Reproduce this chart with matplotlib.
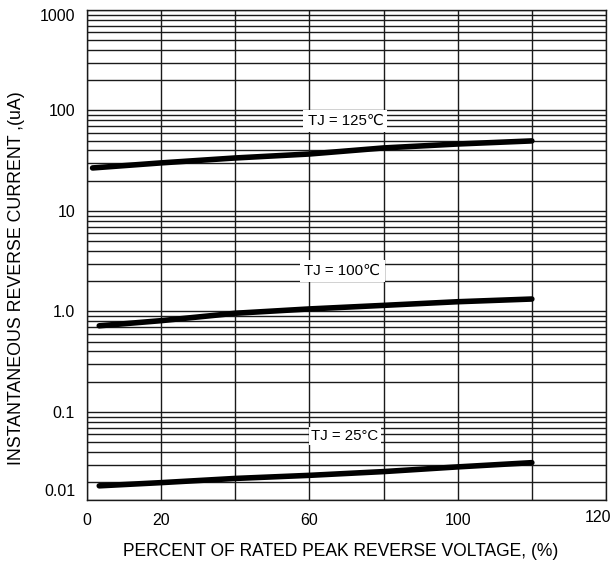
import matplotlib
matplotlib.use("Agg")
import matplotlib.pyplot as plt
from matplotlib.ticker import FixedLocator, LogLocator, NullFormatter
from matplotlib.transforms import ScaledTranslation

plt.rcParams['font.family'] = ['Liberation Sans', 'DejaVu Sans']

# Percent of rated peak reverse voltage
x_125 = [1.5, 20, 40, 60, 80, 100, 120]
x_low = [3.3, 20, 40, 60, 80, 100, 120]
# Instantaneous reverse current (uA)
i_125 = [26.8, 30.1, 33.7, 36.9, 42.4, 46.4, 49.8]
i_100 = [0.72, 0.81, 0.96, 1.06, 1.15, 1.25, 1.33]
i_25 = [0.0184, 0.0198, 0.0218, 0.0234, 0.0255, 0.0284, 0.0313]

labels = ["TJ = 125\u2103", "TJ = 100\u2103", "TJ = 25\u00b0C"]
label_x = [69.7, 68.9, 69.6]
label_y = [78.7, 2.53, 0.0577]

# axis as drawn in the reference: its bottom edge is labelled 0.01
y_top = 1000
y_bottom = 0.0133
x_tick_pos = [0, 20, 40, 60, 80, 100, 120, 140]
x_tick_lab = ["0", "20", "", "60", "", "100", "", "120"]
y_tick_pos = [y_bottom, 0.1, 1.0, 10, 100, 1000]
y_tick_lab = ["0.01", "0.1", "1.0", "10", "100", "1000"]

fig = plt.figure(figsize=(6.14, 5.66), dpi=100)
ax = fig.add_axes([87/614, 1-500/566, (606-87)/614, (500-10)/566])
ax.set_yscale('log')
ax.set_xlim(0, 140)
ax.set_ylim(y_bottom, y_top)

ax.xaxis.set_major_locator(FixedLocator(x_tick_pos))
ax.set_xticklabels(x_tick_lab)
ax.yaxis.set_major_locator(FixedLocator(y_tick_pos))
ax.set_yticklabels(y_tick_lab)
ax.yaxis.set_minor_locator(LogLocator(base=10, subs=range(2, 10)))
ax.yaxis.set_minor_formatter(NullFormatter())

ax.grid(True, which='major', axis='both', color='#1a1a1a', linewidth=1.0)
ax.grid(True, which='minor', axis='y', color='#1a1a1a', linewidth=1.0)
ax.tick_params(which='both', length=0)
ax.tick_params(axis='y', labelsize=11.5, pad=8.6)
ax.tick_params(axis='x', labelsize=11.5, pad=9.2)
for s in ax.spines.values():
    s.set_color('#1a1a1a')
    s.set_linewidth(1.0)

def nudge(lbl, dx, dy):
    lbl.set_transform(lbl.get_transform() + ScaledTranslation(dx/100, dy/100, fig.dpi_scale_trans))

# small label offsets seen in the reference
nudge(ax.get_xticklabels()[-1], -8, 3)
ylabs = ax.get_yticklabels()
nudge(ylabs[0], 0, 10)
nudge(ylabs[-1], 0, -5)

for xs, ys in [(x_125, i_125), (x_low, i_100), (x_low, i_25)]:
    ax.plot(xs, ys, color='black', linewidth=4.0, solid_capstyle='round', zorder=4)

pads = [3.0, 3.0, 1.5]
for t, lx, ly, p in zip(labels, label_x, label_y, pads):
    ax.text(lx, ly, t, ha='center', va='center', fontsize=10.8, zorder=5,
            bbox=dict(facecolor='white', edgecolor='none', pad=p))

fig.text(341/614, 1-552/566, "PERCENT OF RATED PEAK REVERSE VOLTAGE, (%)",
         fontsize=12.65, ha='center', va='center')
fig.text(17/614, 1-278/566, "INSTANTANEOUS REVERSE CURRENT ,(uA)",
         fontsize=12.8, ha='center', va='center', rotation=90)

fig.savefig("out.png", dpi=100)
